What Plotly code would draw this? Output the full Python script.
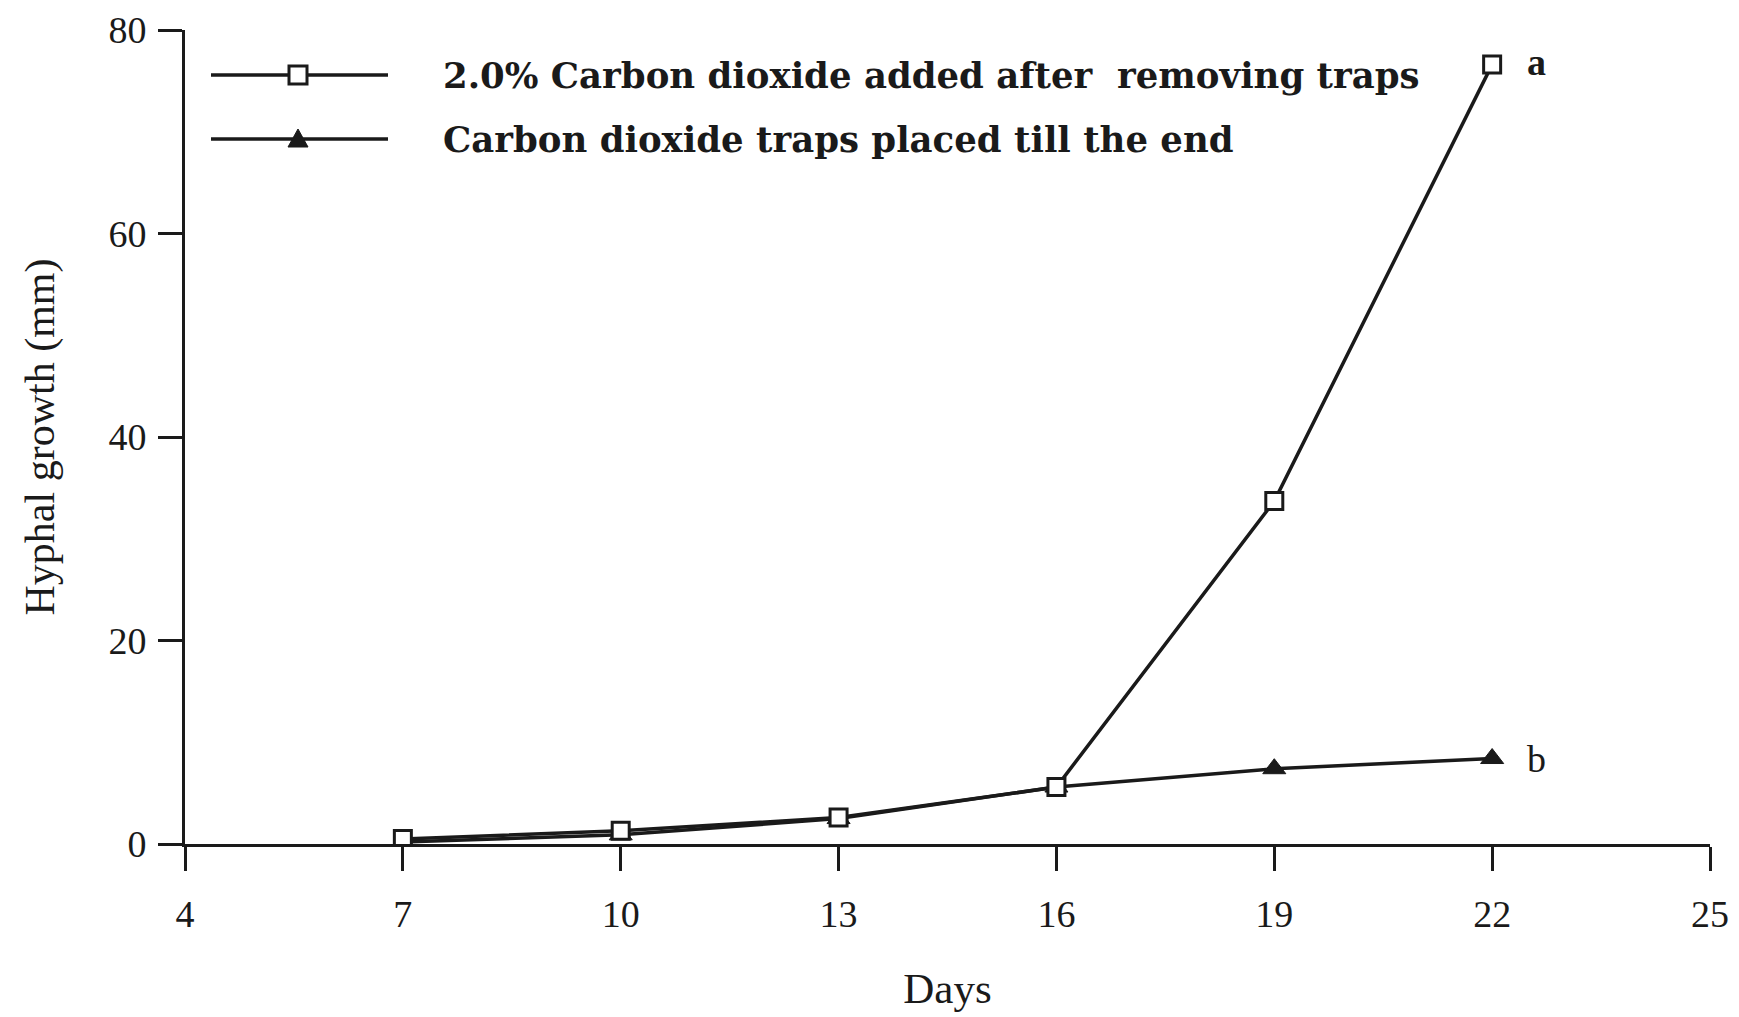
import plotly.graph_objects as go

days = [7, 10, 13, 16, 19, 22]
co2_added = [0.5, 1.3, 2.6, 5.6, 33.7, 76.6]
traps_kept = [0.2, 0.9, 2.5, 5.6, 7.4, 8.4]
x_ticks = [4, 7, 10, 13, 16, 19, 22, 25]
y_ticks = [0, 20, 40, 60, 80]
series_names = ["2.0% Carbon dioxide added after\u00a0 removing traps",
                "Carbon dioxide traps placed till the end"]
end_labels = ["<b>a</b>", "b"]

W, H = 1739, 1017
L, R, T, B = 185, 29, 30, 173
FONT = "Liberation Serif, Times New Roman, serif"
LEG_FONT = "DejaVu Serif, serif"
INK = "#1a1a1a"

fig = go.Figure()
fig.add_trace(go.Scatter(
    x=days, y=traps_kept, mode="lines+markers", name=series_names[1],
    line=dict(color=INK, width=3.5),
    marker=dict(symbol="triangle-up", size=20, color=INK,
                line=dict(color=INK, width=1)),
    showlegend=False))
fig.add_trace(go.Scatter(
    x=days, y=co2_added, mode="lines+markers", name=series_names[0],
    line=dict(color=INK, width=3.5),
    marker=dict(symbol="square", size=17, color="white",
                line=dict(color=INK, width=3)),
    showlegend=False))

# end-of-line letters
fig.add_annotation(x=days[-1], y=co2_added[-1], text=end_labels[0],
                   showarrow=False, xanchor="left", xshift=33, yshift=3,
                   font=dict(family=FONT, size=38, color=INK))
fig.add_annotation(x=days[-1], y=traps_kept[-1], text=end_labels[1],
                   showarrow=False, xanchor="left", xshift=33, yshift=0,
                   font=dict(family=FONT, size=38, color=INK))

# custom legend (paper coordinates computed from pixel layout)
pw, ph = W - L - R, H - T - B
def px(xp):
    return (xp - L) / pw
def py(yp):
    return 1 - (yp - T) / ph

rows = [75, 139]
for i, yp in enumerate(rows):
    fig.add_shape(type="line", xref="paper", yref="paper",
                  x0=px(211), x1=px(388), y0=py(yp), y1=py(yp),
                  line=dict(color=INK, width=3.5))
    fig.add_annotation(xref="paper", yref="paper", x=px(441), y=py(yp),
                       text="<b>%s</b>" % series_names[i], showarrow=False,
                       xanchor="left", yanchor="middle",
                       font=dict(family=LEG_FONT, size=35.5, color=INK))
# legend markers
fig.add_shape(type="rect", xref="paper", yref="paper",
              xsizemode="pixel", ysizemode="pixel",
              xanchor=px(298), yanchor=py(rows[0]),
              x0=-9, x1=9, y0=-9, y1=9,
              fillcolor="white", line=dict(color=INK, width=3))
fig.add_shape(type="path", xref="paper", yref="paper",
              xsizemode="pixel", ysizemode="pixel",
              xanchor=px(298), yanchor=py(rows[1]),
              path="M -10 -8 L 10 -8 L 0 10 Z",
              fillcolor=INK, line=dict(color=INK, width=1))

axis_common = dict(showgrid=False, zeroline=False, showline=True,
                   linecolor=INK, linewidth=3, ticks="outside",
                   ticklen=24, tickwidth=3, tickcolor=INK,
                   tickfont=dict(family=FONT, size=38, color=INK))
fig.update_xaxes(range=[4, 25], tickvals=x_ticks, ticktext=[str(v) for v in x_ticks],
                 title=dict(text="Days", font=dict(family=FONT, size=43, color=INK),
                            standoff=40),
                 ticklabelstandoff=10, **axis_common)
fig.update_yaxes(range=[0, 80], tickvals=y_ticks, ticktext=[str(v) for v in y_ticks],
                 title=dict(text="Hyphal growth (mm)",
                            font=dict(family=FONT, size=42, color=INK), standoff=41),
                 ticklabelstandoff=4, **axis_common)

fig.update_layout(width=W, height=H, margin=dict(l=L, r=R, t=T, b=B, autoexpand=False),
                  plot_bgcolor="white", paper_bgcolor="white", showlegend=False)
fig.write_html("out.html", config={"displayModeBar": False},
               post_script="document.body.style.margin='0';")
